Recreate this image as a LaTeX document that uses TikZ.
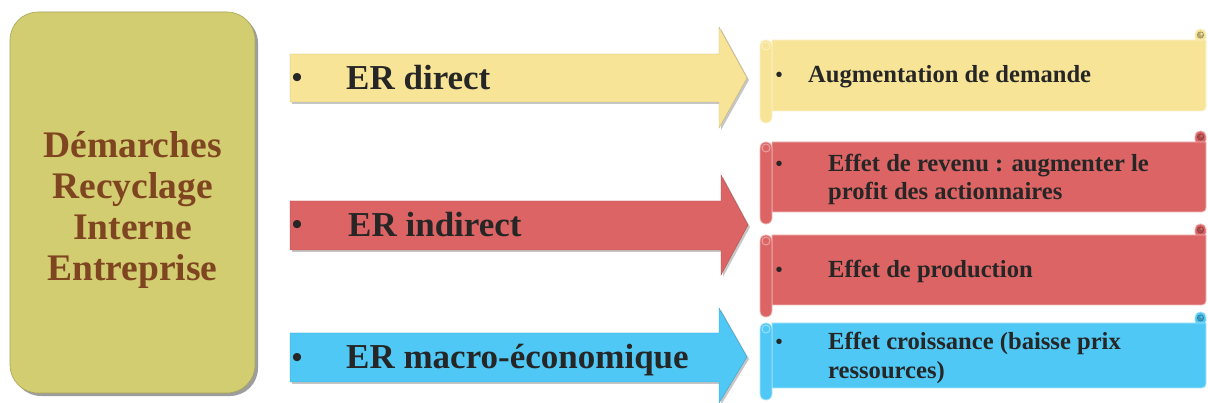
\documentclass[tikz,border=0pt]{standalone}
\usepackage{fontspec}
\setmainfont{Liberation Serif}
\usetikzlibrary{shadows}

\definecolor{boxolive}{HTML}{D2CD70}
\definecolor{boxbrown}{HTML}{7E4520}
\definecolor{cyell}{HTML}{F7E496}
\definecolor{cred}{HTML}{DC6464}
\definecolor{cblue}{HTML}{4FC8F5}
\definecolor{txtdark}{HTML}{262626}

\tikzset{
  arrowshape/.style={fill=#1, draw=#1!80!black, line width=0.4pt,
    drop shadow={shadow xshift=2pt, shadow yshift=-2pt, opacity=.45}},
  armtext/.style={anchor=base west, inner sep=0pt, text=txtdark,
    font=\fontsize{35}{40}\selectfont\bfseries},
  armbullet/.style={anchor=base, inner sep=0pt, text=txtdark,
    font=\fontsize{30}{35}\selectfont\bfseries},
  scrolltext/.style={anchor=base west, inner sep=0pt, text=txtdark,
    font=\fontsize{24.6}{29}\selectfont\bfseries},
  scrollbullet/.style={anchor=base, inner sep=0pt, text=txtdark,
    font=\fontsize{20}{24}\selectfont\bfseries},
  scrollbody/.style={fill=#1, draw=white!55!#1, line width=0.8pt},
}

% horizontal scroll: #1 top, #2 bottom, #3 colour
\newcommand\hscroll[3]{%
  % curl rising at the top right
  \filldraw[scrollbody=#3, rounded corners=5] (1195,#1+3) rectangle (1206,#1-11);
  \filldraw[fill=#3!75!black, draw=#3!60!black, line width=0.5pt] (1200.5,#1-5) circle (3.2);
  \fill[#3] (1201.5,#1-6) circle (1.3);
  % main sheet
  \filldraw[scrollbody=#3] (772,#1) -- (1206,#1) [rounded corners=4] -- (1206,#2)
    [sharp corners] -- (772,#2) -- cycle;
  % rolled strip on the left
  \filldraw[scrollbody=#3, rounded corners=5.8] (760,#1) rectangle (772,#2+12);
  \draw[white!40!#3, line width=1pt] (766,#1+6) circle (4);
}

\begin{document}
\begin{tikzpicture}[x=1pt, y=-1pt]
\useasboundingbox (0,0) rectangle (1208,403);

% source block
\fill[black!70, opacity=.55, rounded corners=28] (13,15) rectangle (258,396);
\node[draw=boxolive!80!black, line width=0.6pt, fill=boxolive, rounded corners=28,
  minimum width=245pt, minimum height=381pt, inner sep=0pt] (src) at (132.5,202.5) {};
\node[text=boxbrown, align=center, inner sep=0pt,
  font=\fontsize{37.5}{41}\selectfont\bfseries] (srctext) at (132.5,210)
  {Démarches\\Recyclage\\Interne\\Entreprise};

% arrow 1 : direct
\path[arrowshape=cyell] (290,54) -- (719,54) -- (719,27) -- (747,78) -- (719,128)
  -- (719,102) -- (290,102) -- cycle;
\node[armbullet] (b1) at (297,88) {•};
\node[armtext] (a1) at (346,90) {ER direct};

% arrow 2 : indirect
\path[arrowshape=cred] (290,201) -- (721,201) -- (721,175) -- (748,225) -- (721,275)
  -- (721,250) -- (290,250) -- cycle;
\node[armbullet] (b2) at (297,235) {•};
\node[armtext] (a2) at (348,237) {ER indirect};

% arrow 3 : macro
\path[arrowshape=cblue] (290,333) -- (719,333) -- (719,308) -- (747,357) -- (719,403)
  -- (719,382) -- (290,382) -- cycle;
\node[armbullet] (b3) at (297,367) {•};
\node[armtext] (a3) at (346,369) {ER macro-économique};

% scrolls
\hscroll{40}{111}{cyell}
\node[scrollbullet] (s1b) at (779,82) {•};
\node[scrolltext] (s1) at (808,83) {Augmentation de demande};

\hscroll{142}{212}{cred}
\node[scrollbullet] (s2b) at (779,171) {•};
\node[scrolltext] (s2a) at (828,172) {Effet de revenu : augmenter le};
\node[scrolltext] (s2c) at (828,200) {profit des actionnaires};

\hscroll{235}{305}{cred}
\node[scrollbullet] (s3b) at (779,277) {•};
\node[scrolltext] (s3) at (828,278) {Effet de production};

\hscroll{323}{388}{cblue}
\node[scrollbullet] (s4b) at (779,349) {•};
\node[scrolltext] (s4a) at (828,350) {Effet croissance (baisse prix};
\node[scrolltext] (s4c) at (828,378) {ressources)};
\end{tikzpicture}
\end{document}
